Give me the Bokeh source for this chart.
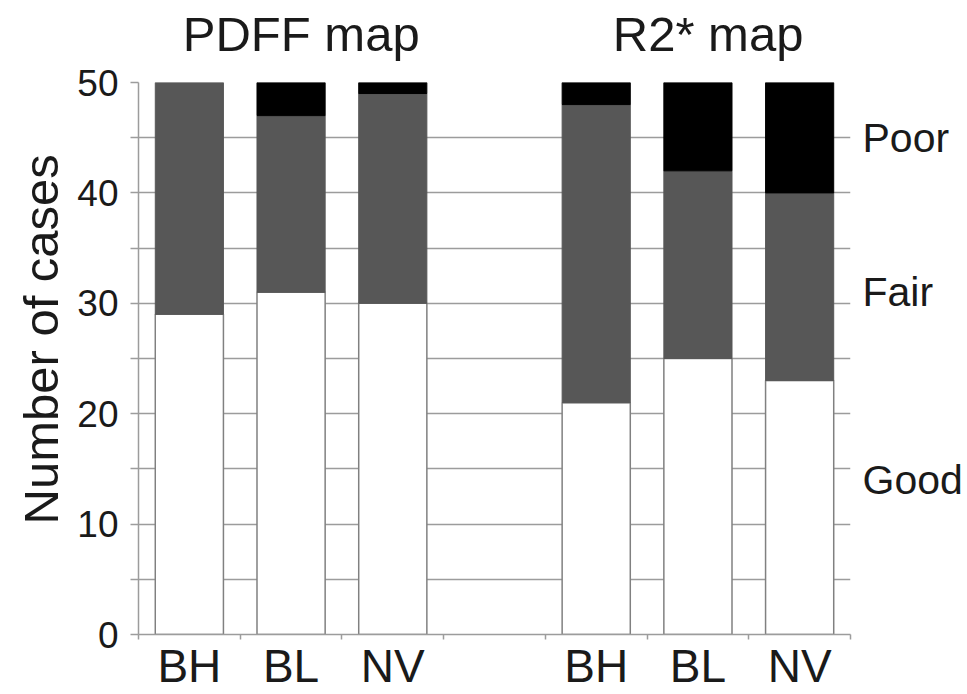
from bokeh.plotting import figure
from bokeh.models import FixedTicker, LinearAxis, Title
from bokeh.embed import file_html
from bokeh.resources import INLINE

# ---- data ----
groups = ["PDFF map", "R2* map"]
methods = ["BH", "BL", "NV"]
good = [29, 31, 30, 21, 25, 23]
fair = [21, 16, 19, 27, 17, 17]
poor = [0, 3, 1, 2, 8, 10]
levels = ["Poor", "Fair", "Good"]
level_label_y = [45, 31, 14]
y_ticks = [0, 10, 20, 30, 40, 50]

# slot positions: 3 bars per group, one empty slot between groups
pos = []
labels = []
for gi, g in enumerate(groups):
    for mi, m in enumerate(methods):
        pos.append(gi * (len(methods) + 1) + mi + 0.5)
        labels.append(m)
n_slots = len(groups) * (len(methods) + 1) - 1
title_pos = [sum(pos[i * 3:(i + 1) * 3]) / 3 + 0.1 for i in range(len(groups))]

FONT = "Liberation Sans"
TXT = "#1a1a1a"
GRID = "#9c9c9c"
EDGE = "#808080"

p = figure(width=967, height=694, x_range=(0, n_slots), y_range=(0, 50),
           output_backend="svg", toolbar_location=None,
           min_border_left=138, min_border_right=117,
           min_border_top=82, min_border_bottom=59)
p.outline_line_color = None
p.background_fill_color = "white"
p.border_fill_color = "white"

p.xgrid.visible = False
p.ygrid.ticker = FixedTicker(ticks=list(range(0, 51, 5)))
p.ygrid.grid_line_color = GRID
p.ygrid.grid_line_width = 1.5

g_top = good
f_top = [a + b for a, b in zip(good, fair)]
p_top = [a + b for a, b in zip(f_top, poor)]

bw = 0.67
p.vbar(x=pos, bottom=0, top=g_top, width=bw, fill_color="white",
       line_color=EDGE, line_width=1.5)
p.vbar(x=pos, bottom=g_top, top=f_top, width=bw, fill_color="#575757",
       line_color="#575757", line_width=1)
# only segments that are present
pk = [i for i, v in enumerate(poor) if v > 0]
p.vbar(x=[pos[i] for i in pk], bottom=[f_top[i] for i in pk],
       top=[p_top[i] for i in pk], width=bw, fill_color="black",
       line_color="black", line_width=1)

# x axis
xa = p.xaxis[0]
xa.ticker = FixedTicker(ticks=pos, minor_ticks=list(range(n_slots + 1)))
xa.major_label_overrides = {x: l for x, l in zip(pos, labels)}
xa.major_tick_out = 0
xa.major_tick_in = 0
xa.minor_tick_out = 5
xa.minor_tick_in = 0
xa.minor_tick_line_color = GRID
xa.minor_tick_line_width = 1.5
xa.axis_line_color = GRID
xa.axis_line_width = 1.5
xa.major_label_standoff = 0
xa.major_label_text_font = FONT
xa.major_label_text_font_size = "46px"
xa.major_label_text_color = TXT

# y axis
ya = p.yaxis[0]
ya.ticker = FixedTicker(ticks=y_ticks, minor_ticks=list(range(5, 50, 10)))
ya.major_tick_out = 8
ya.major_tick_in = 0
ya.minor_tick_out = 8
ya.minor_tick_in = 0
ya.major_tick_line_color = GRID
ya.minor_tick_line_color = GRID
ya.major_tick_line_width = 1.5
ya.minor_tick_line_width = 1.5
ya.axis_line_color = GRID
ya.axis_line_width = 1.5
ya.major_label_standoff = 12
ya.major_label_text_font = FONT
ya.major_label_text_font_size = "37px"
ya.major_label_text_color = TXT

p.add_layout(Title(text="Number of cases", align="left", offset=110,
                   vertical_align="top",
                   text_font=FONT, text_font_size="49px", text_font_style="normal",
                   text_color=TXT, standoff=9), "left")

# group titles above
ta = LinearAxis(ticker=FixedTicker(ticks=title_pos),
                major_label_overrides={c: g for c, g in zip(title_pos, groups)},
                axis_line_color=None, major_tick_line_color=None,
                minor_tick_line_color=None, major_tick_out=0, minor_tick_out=0,
                major_label_standoff=22,
                major_label_text_font=FONT, major_label_text_font_size="49px",
                major_label_text_color=TXT)
p.add_layout(ta, "above")

# quality levels on the right
ra = LinearAxis(ticker=FixedTicker(ticks=level_label_y),
                major_label_overrides={y: l for y, l in zip(level_label_y, levels)},
                axis_line_color=None, major_tick_line_color=None,
                minor_tick_line_color=None, major_tick_out=0, minor_tick_out=0,
                major_label_standoff=12,
                major_label_text_font=FONT, major_label_text_font_size="41px",
                major_label_text_color=TXT)
p.add_layout(ra, "right")

open("out.html", "w").write(file_html(p, INLINE))
